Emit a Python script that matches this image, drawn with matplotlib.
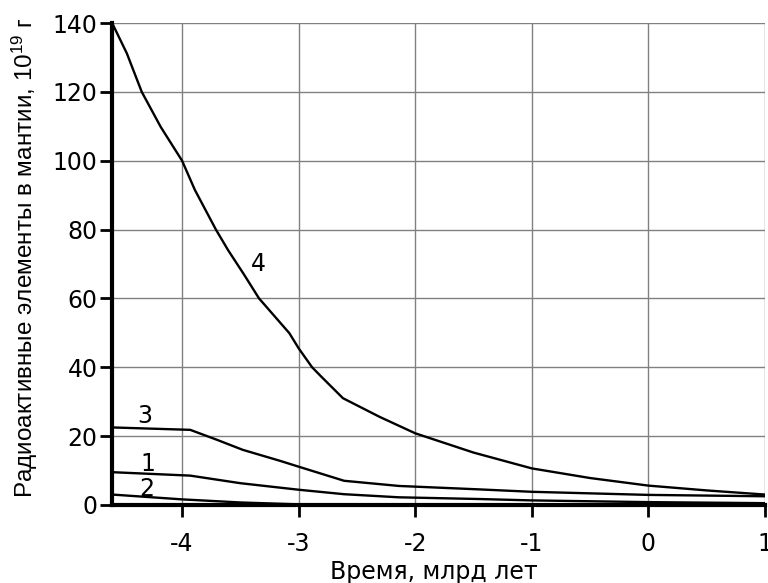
import matplotlib
matplotlib.use("Agg")
import matplotlib.pyplot as plt

plt.rcParams["font.family"] = ["Liberation Sans", "DejaVu Sans"]
plt.rcParams["mathtext.fontset"] = "custom"
plt.rcParams["mathtext.rm"] = "Liberation Sans"
plt.rcParams["mathtext.it"] = "Liberation Sans"
plt.rcParams["axes.unicode_minus"] = False

# время, млрд лет, и массы (10^19 г) для четырёх кривых
x4 = [-4.6, -4.474, -4.346, -4.183, -4.0, -3.89, -3.71, -3.605, -3.47, -3.34, -3.08, -3.0,
      -2.885, -2.807, -2.62, -2.307, -2.0, -1.5, -1.0, -0.5, 0.0, 0.5, 1.0]
y4 = [140, 131.2, 120, 109.8, 100, 91.5, 80, 74, 67, 60, 49.9, 45.5,
      40, 37.3, 31, 25.6, 20.8, 15.2, 10.6, 7.8, 5.6, 4.2, 3.0]

x3 = [-4.6, -3.93, -3.7, -3.48, -3.16, -3.0, -2.61, -2.14, -1.45, -1.0, 0.0, 1.0]
y3 = [22.5, 21.8, 18.9, 16.0, 12.8, 11.1, 7.0, 5.5, 4.5, 3.8, 2.9, 2.5]

x1 = [-4.6, -3.93, -3.5, -3.0, -2.61, -2.14, -1.45, -1.0, 0.0, 1.0]
y1 = [9.5, 8.5, 6.3, 4.4, 3.1, 2.2, 1.7, 1.3, 0.8, 0.5]

x2 = [-4.6, -4.0, -3.5, -3.0, -2.0, -1.0, 0.0, 1.0]
y2 = [3.0, 1.6, 0.7, 0.15, 0.1, 0.1, 0.1, 0.1]

curve_labels = ["1", "2", "3", "4"]
label_pos = [(-4.29, 9.9), (-4.30, 2.6), (-4.32, 23.9), (-3.345, 67.9)]

x_ticks = [-4, -3, -2, -1, 0, 1]
y_ticks = [0, 20, 40, 60, 80, 100, 120, 140]

fig = plt.figure(figsize=(7.68, 5.83), dpi=100)
ax = fig.add_axes([0.146, 0.134, 0.85, 0.8265])

for xs, ys in [(x1, y1), (x2, y2), (x3, y3), (x4, y4)]:
    ax.plot(xs, ys, color="black", linewidth=1.7, solid_joinstyle="round", zorder=3)

for text, (tx, ty) in zip(curve_labels, label_pos):
    ax.text(tx, ty, text, fontsize=17, family="DejaVu Sans", ha="center", va="baseline")

ax.set_xlim(-4.6, 1)
ax.set_ylim(0, 140)
ax.set_xticks(x_ticks)
ax.set_yticks(y_ticks)
ax.grid(True, color="#808080", linewidth=1)
ax.set_axisbelow(True)

for side in ("top", "right"):
    ax.spines[side].set_visible(False)
for side in ("left", "bottom"):
    ax.spines[side].set_linewidth(3)

ax.tick_params(direction="out", length=8.5, width=2, labelsize=17)
ax.tick_params(axis="x", pad=11)
ax.tick_params(axis="y", pad=2)
for lab in ax.get_xticklabels() + ax.get_yticklabels():
    lab.set_family("DejaVu Sans")

ax.set_xlabel("Время, млрд лет", fontsize=17, family="DejaVu Sans")
ax.set_ylabel("Радиоактивные элементы в мантии, 10$^{19}$ г", fontsize=17.5)
ax.xaxis.set_label_coords(0.493, -0.114)
ax.yaxis.set_label_coords(-0.110, 0.5135)

fig.savefig("out.png", dpi=100)
